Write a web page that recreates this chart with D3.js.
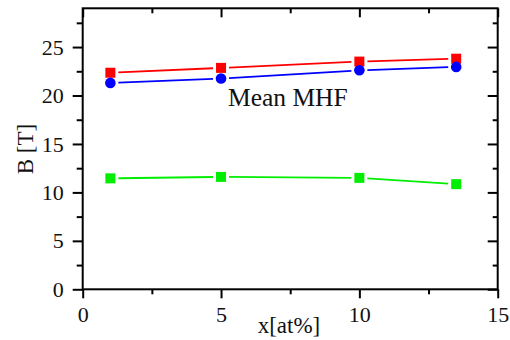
<!DOCTYPE html>
<html><head><meta charset="utf-8">
<script src="https://cdn.jsdelivr.net/npm/d3@7"></script>
<style>body{margin:0;background:#fff}svg{display:block}</style>
</head><body>
<script>
const xValues = [1, 5, 10, 13.5];
const redValues = [22.35, 22.85, 23.5, 23.8];
const blueValues = [21.3, 21.75, 22.6, 22.95];
const greenValues = [11.45, 11.6, 11.5, 10.85];
const xTicks = [0, 5, 10, 15];
const yTicks = [0, 5, 10, 15, 20, 25];
const annotation = "Mean MHF";
const xLabel = "x[at%]";
const yLabel = "B [T]";

const W = 510, H = 340;
const L = 82.7, R = 497.7, T = 8.3, B = 289.3;
const svg = d3.select("body").append("svg").attr("width", W).attr("height", H);
const x = d3.scaleLinear().domain([0, 15]).range([L, R]);
const y = d3.scaleLinear().domain([0, 29]).range([B, T]);
const font = "'Liberation Serif', 'Times New Roman', serif";

const xMinor = d3.range(0, 15.01, 2.5).filter(v => v % 5 !== 0);
const yMinor = d3.range(0, 29, 2.5).filter(v => v % 5 !== 0);

// bottom axis
const gB = svg.append("g").attr("transform", `translate(0,${B})`)
  .call(d3.axisBottom(x).tickValues(xTicks).tickSize(9).tickPadding(8).tickFormat(d3.format("d")));
gB.append("g").call(d3.axisBottom(x).tickValues(xMinor).tickSize(5).tickFormat(""));
// left axis
const gL = svg.append("g").attr("transform", `translate(${L},0)`)
  .call(d3.axisLeft(y).tickValues(yTicks).tickSize(10).tickPadding(9).tickFormat(d3.format("d")));
gL.append("g").call(d3.axisLeft(y).tickValues(yMinor).tickSize(6).tickFormat(""));
// top axis (inward ticks)
const gT = svg.append("g").attr("transform", `translate(0,${T})`)
  .call(d3.axisBottom(x).tickValues(xTicks).tickSize(9).tickFormat(""));
gT.append("g").call(d3.axisBottom(x).tickValues(xMinor).tickSize(5).tickFormat(""));
// right axis (inward ticks)
const gR = svg.append("g").attr("transform", `translate(${R},0)`)
  .call(d3.axisLeft(y).tickValues(yTicks).tickSize(10).tickFormat(""));
gR.append("g").call(d3.axisLeft(y).tickValues(yMinor).tickSize(5).tickFormat(""));

svg.selectAll(".domain").remove();
svg.selectAll(".tick line").attr("stroke", "#000").attr("stroke-width", 2);
svg.selectAll(".tick text").attr("font-family", font).attr("font-size", 22).attr("fill", "#111");

// frame
svg.append("rect").attr("x", L).attr("y", T).attr("width", R - L).attr("height", B - T)
  .attr("fill", "none").attr("stroke", "#000").attr("stroke-width", 2);

function drawSeries(vals, color, shape) {
  const pts = xValues.map((d, i) => [x(d), y(vals[i])]);
  const gap = 8;
  for (let i = 0; i < pts.length - 1; i++) {
    const [x1, y1] = pts[i], [x2, y2] = pts[i + 1];
    const len = Math.hypot(x2 - x1, y2 - y1);
    const ux = (x2 - x1) / len, uy = (y2 - y1) / len;
    svg.append("line")
      .attr("x1", x1 + ux * gap).attr("y1", y1 + uy * gap)
      .attr("x2", x2 - ux * gap).attr("y2", y2 - uy * gap)
      .attr("stroke", color).attr("stroke-width", 1.8);
  }
  pts.forEach(([px, py]) => {
    if (shape === "square") {
      svg.append("rect").attr("x", px - 5).attr("y", py - 5).attr("width", 10).attr("height", 10).attr("fill", color);
    } else {
      svg.append("circle").attr("cx", px).attr("cy", py).attr("r", 5.3).attr("fill", color);
    }
  });
}
drawSeries(greenValues, "#00ee00", "square");
drawSeries(redValues, "#ff0000", "square");
drawSeries(blueValues, "#0000ff", "circle");

svg.append("text").attr("x", 228).attr("y", 105.5).attr("font-family", font).attr("font-size", 25.5)
  .attr("fill", "#111").text(annotation);
svg.append("text").attr("x", 289).attr("y", 333).attr("text-anchor", "middle").attr("font-family", font)
  .attr("font-size", 23).attr("fill", "#111").text(xLabel);
svg.append("text").attr("transform", "translate(33,149) rotate(-90)").attr("text-anchor", "middle")
  .attr("font-family", font).attr("font-size", 23).attr("fill", "#111").text(yLabel);
</script>
</body></html>
